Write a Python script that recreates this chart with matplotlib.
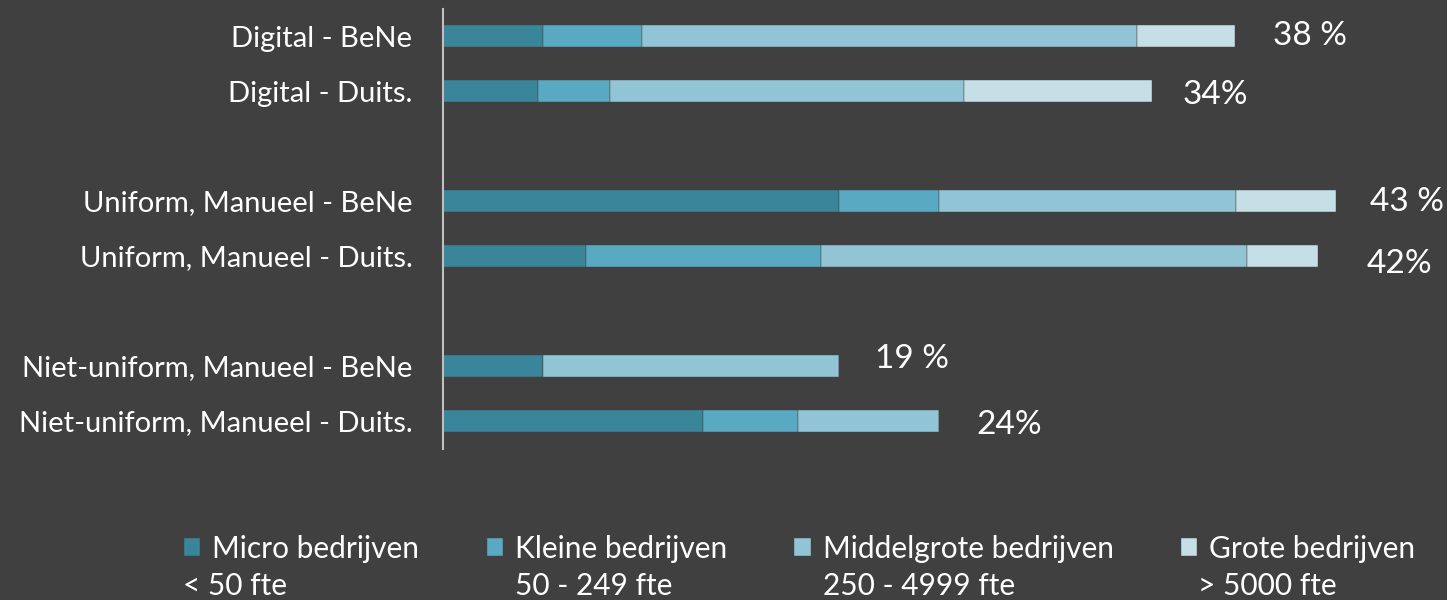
import matplotlib
matplotlib.use("Agg")
import matplotlib.pyplot as plt

# data (percent of companies, split by company size)
categories = ["Digital - BeNe", "Digital - Duits.",
              "Uniform, Manueel - BeNe", "Uniform, Manueel - Duits.",
              "Niet-uniform, Manueel - BeNe", "Niet-uniform, Manueel - Duits."]
slots = [0, 1, 3, 4, 6, 7]

micro = [4.8, 4.55, 19.0, 6.85, 4.8, 12.5]
kleine = [4.75, 3.45, 4.8, 11.3, 0.0, 4.55]
middel = [23.75, 17.0, 14.25, 20.45, 14.2, 6.75]
grote = [4.7, 9.05, 4.8, 3.4, 0.0, 0.0]
total_labels = ["38 %", "34%", "43 %", "42%", "19 %", "24%"]

series_names = ["Micro bedrijven", "Kleine bedrijven", "Middelgrote bedrijven", "Grote bedrijven"]
series_sub = ["< 50 fte", "50 - 249 fte", "250 - 4999 fte", "> 5000 fte"]
colors = ["#3A8599", "#58A9C1", "#91C5D6", "#C6DEE6"]

# label nudges in pixels (dx from bar end, dy downwards)
label_dx = [38, 30, 34, 49, 36, 38]
label_dy = [0, 4, 1, 8, -7, 4]

bg = "#404040"
font = ["Lato", "DejaVu Sans"]
plt.rcParams["font.family"] = font

fig = plt.figure(figsize=(14.47, 6.0), dpi=100, facecolor=bg)
ax = fig.add_axes([443 / 1447, 1 - 448.5 / 600, 1000 / 1447, 440 / 600])
ax.set_facecolor(bg)

left = [0.0] * len(categories)
for vals, col, name in zip([micro, kleine, middel, grote], colors, series_names):
    ax.barh(slots, vals, left=left, height=0.4, color=col, edgecolor=bg,
            linewidth=0.3, label=name)
    left = [l + v for l, v in zip(left, vals)]

px = 72 / fig.dpi
for s, tot, txt, dx, dy in zip(slots, left, total_labels, label_dx, label_dy):
    ax.annotate(txt, (tot, s), xytext=(dx * px, -dy * px), textcoords="offset points",
                ha="left", va="center", color="white", fontsize=24)

ax.set_xlim(0, 48)
ax.set_ylim(7.5, -0.5)
ax.set_yticks(slots)
ax.set_yticklabels(categories, color="white", fontsize=21)
ax.tick_params(axis="y", length=0, pad=22)
ax.set_xticks([])
for side in ["top", "right", "bottom"]:
    ax.spines[side].set_visible(False)
ax.spines["left"].set_color("#BFBFBF")
ax.spines["left"].set_linewidth(1.5)

leg = fig.legend(loc="center left", bbox_to_anchor=(184 / 1447, 1 - 549 / 600), ncol=4,
                 frameon=False, fontsize=21.5, labelcolor="white",
                 handlelength=0.55, handleheight=0.55, handletextpad=0.4,
                 columnspacing=2.25, borderpad=0, borderaxespad=0)

# second line of each legend entry
fig.canvas.draw()
sub_dx = [-29, 0, 0, -11]
inv = fig.transFigure.inverted()
for t, sub, dx in zip(leg.get_texts(), series_sub, sub_dx):
    bb = t.get_window_extent()
    x, y = inv.transform((bb.x0 + dx, (bb.y0 + bb.y1) / 2 - 37))
    fig.text(x, y, sub, color="white", fontsize=21.5, ha="left", va="center")

fig.savefig("out.png", dpi=100, facecolor=bg)
